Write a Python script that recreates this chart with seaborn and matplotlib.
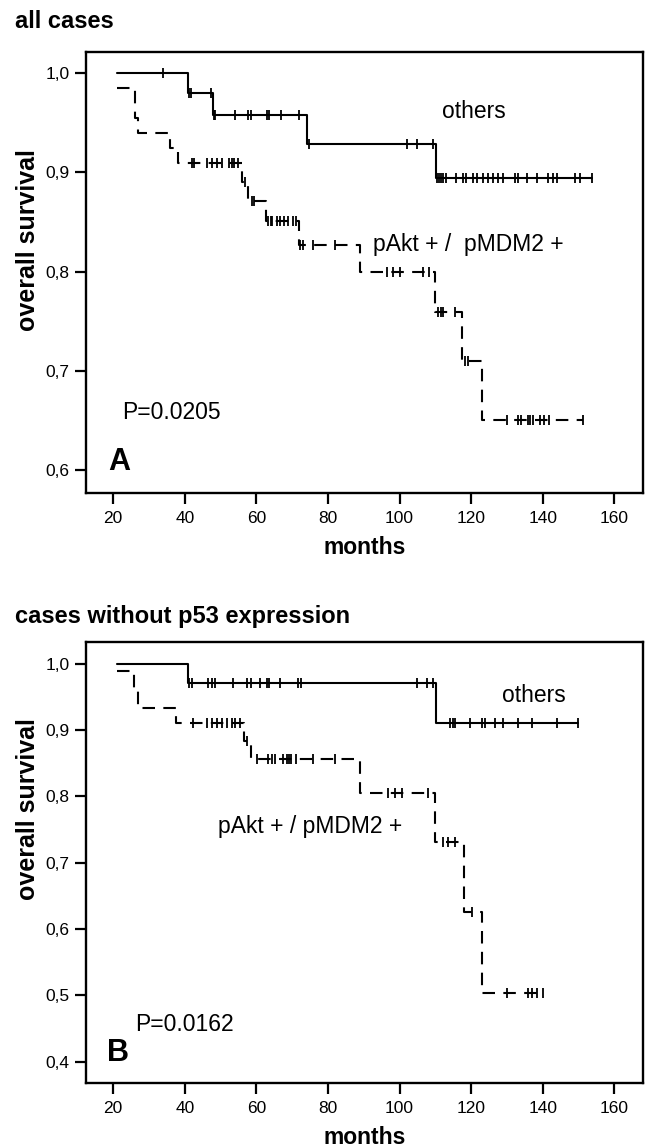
import numpy as np
import pandas as pd
import seaborn as sns
import matplotlib.pyplot as plt

# --- panel A: all cases -------------------------------------------------
# step curves: time of each drop and survival after it (first entry = start)
a_others_t = [21, 41, 47.9, 74.0, 110.1]
a_others_s = [1.0, 0.980, 0.958, 0.929, 0.894]
a_others_cens = [34.0, 41.2, 41.7, 47.3, 48.1, 48.5, 54.0, 57.7, 58.4, 62.9,
                 63.6, 66.9, 71.9, 74.8, 102.0, 104.8, 109.4, 110.4, 111.1,
                 111.7, 112.2, 113.0, 115.8, 117.6, 118.5, 120.6, 121.5, 123.4,
                 124.8, 126.2, 127.6, 129.0, 132.2, 133.2, 135.5, 138.3, 141.5,
                 142.9, 143.9, 149.0, 150.4, 153.7]

a_pakt_t = [21, 26.0, 27.0, 35.8, 38.0, 55.9, 57.7, 62.7, 72.0, 89.0, 109.9,
            117.5, 123.1]
a_pakt_s = [0.985, 0.955, 0.940, 0.925, 0.910, 0.890, 0.871, 0.851, 0.827,
            0.800, 0.760, 0.710, 0.651]
a_pakt_cens = [41.9, 42.5, 46.1, 47.5, 48.9, 50.3, 52.4, 53.1, 53.7, 54.9,
               56.8, 58.7, 59.3, 63.3, 64.0, 64.5, 65.7, 66.6, 67.7, 68.9,
               70.3, 71.2, 72.3, 72.9, 75.9, 81.9, 96.4, 98.2, 100.1, 106.6,
               108.3, 110.8, 111.6, 112.2, 115.5, 118.2, 119.2, 129.9, 133.2,
               133.9, 135.8, 136.4, 137.2, 139.2, 140.3, 141.8, 151.2]

# --- panel B: cases without p53 expression ------------------------------
b_others_t = [21, 41.0, 110.1]
b_others_s = [1.0, 0.971, 0.911]
b_others_cens = [41.3, 41.9, 46.5, 47.5, 48.4, 53.5, 57.3, 58.4, 61.0, 62.9,
                 63.6, 66.6, 71.7, 72.6, 104.8, 107.6, 109.4, 114.1, 115.0,
                 115.5, 119.7, 122.9, 123.9, 126.6, 129.0, 133.2, 136.9, 143.9,
                 149.9]

b_pakt_t = [21, 25.9, 26.9, 37.5, 56.5, 58.5, 89.0, 109.9, 118.0, 123.1]
b_pakt_s = [0.989, 0.960, 0.933, 0.911, 0.883, 0.856, 0.805, 0.732, 0.626,
            0.503]
b_pakt_cens = [42.4, 46.1, 47.5, 48.9, 50.3, 51.7, 53.1, 54.0, 55.4, 57.3,
               60.1, 63.3, 64.3, 65.2, 67.5, 68.5, 69.2, 69.8, 71.2, 75.9,
               81.9, 96.8, 98.7, 100.6, 108.0, 112.2, 113.6, 115.5, 120.1,
               129.9, 136.0, 136.9, 138.3, 140.1]

x_ticks = [20, 40, 60, 80, 100, 120, 140, 160]
a_yticks = [0.6, 0.7, 0.8, 0.9, 1.0]
a_ytick_labels = ["0,6", "0,7", "0,8", "0,9", "1,0"]
b_yticks = [0.4, 0.5, 0.6, 0.7, 0.8, 0.9, 1.0]
b_ytick_labels = ["0,4", "0,5", "0,6", "0,7", "0,8", "0,9", "1,0"]


def km_frame(times, surv, cens, group):
    # step points plus the tail out to the last censored case
    end = max(cens[-1], times[-1])
    return pd.DataFrame({"months": list(times) + [end],
                         "survival": list(surv) + [surv[-1]],
                         "group": group})


def cens_frame(times, surv, cens, group):
    idx = np.searchsorted(times, cens, side="right") - 1
    return pd.DataFrame({"months": cens,
                         "survival": np.asarray(surv)[idx],
                         "group": group})


def draw_panel(ax, curves, ylim, yticks, ylabels, ylab_y):
    lines = pd.concat([km_frame(*c) for c in curves], ignore_index=True)
    marks = pd.concat([cens_frame(*c) for c in curves], ignore_index=True)
    sns.lineplot(data=lines, x="months", y="survival", style="group",
                 dashes={"others": "", "pakt": (6, 4)}, color="black",
                 lw=1.5, drawstyle="steps-post", estimator=None, sort=False,
                 legend=False, ax=ax)
    sns.scatterplot(data=marks, x="months", y="survival", marker="|", s=55,
                    color="black", linewidth=1.3, legend=False, ax=ax)
    ax.set_xlim(12.4, 167.9)
    ax.set_ylim(*ylim)
    ax.set_xticks(x_ticks)
    ax.set_xticklabels([str(v) for v in x_ticks])
    ax.set_yticks(yticks)
    ax.set_yticklabels(ylabels)
    ax.tick_params(direction="out", length=8, width=1.6, labelsize=12.5,
                   pad=4, colors="black")
    ax.tick_params(axis="x", pad=5)
    for sp in ax.spines.values():
        sp.set_linewidth(1.7)
        sp.set_color("black")
    ax.set_xlabel("months", fontsize=16.5, fontweight="bold", labelpad=7)
    ax.set_ylabel("overall survival", fontsize=18, fontweight="bold")
    ax.yaxis.set_label_coords(-0.082, ylab_y)


sns.set_style("ticks")
plt.rcParams["font.family"] = ["Liberation Sans", "DejaVu Sans"]
plt.rcParams["text.color"] = "black"
plt.rcParams["axes.labelcolor"] = "black"

fig = plt.figure(figsize=(6.45, 11.48), dpi=100)
ax_a = fig.add_axes([0.1333, 0.5703, 0.8631, 0.3847])
ax_b = fig.add_axes([0.1333, 0.0564, 0.8631, 0.3847])

draw_panel(ax_a,
           [(a_others_t, a_others_s, a_others_cens, "others"),
            (a_pakt_t, a_pakt_s, a_pakt_cens, "pakt")],
           (0.577, 1.0216), a_yticks, a_ytick_labels, 0.574)
draw_panel(ax_b,
           [(b_others_t, b_others_s, b_others_cens, "others"),
            (b_pakt_t, b_pakt_s, b_pakt_cens, "pakt")],
           (0.3674, 1.0336), b_yticks, b_ytick_labels, 0.62)

# curve labels and panel annotations
ax_a.text(111.8, 0.961, "others", fontsize=16.5, va="center")
ax_a.text(92.6, 0.827, "pAkt + /  pMDM2 +", fontsize=16.5, va="center")
ax_a.text(22.6, 0.658, "P=0.0205", fontsize=16.5, va="center")
ax_a.text(18.5, 0.609, "A", fontsize=22, fontweight="bold", va="center")

ax_b.text(128.5, 0.953, "others", fontsize=16.5, va="center")
ax_b.text(49.3, 0.755, "pAkt + / pMDM2 +", fontsize=16.5, va="center")
ax_b.text(26.1, 0.4555, "P=0.0162", fontsize=16.5, va="center")
ax_b.text(18.2, 0.4133, "B", fontsize=22, fontweight="bold", va="center")

fig.text(0.0233, 0.9753, "all cases", fontsize=17, fontweight="bold",
         va="baseline")
fig.text(0.0233, 0.457, "cases without p53 expression", fontsize=17,
         fontweight="bold", va="baseline")

fig.savefig("out.png", dpi=100)
